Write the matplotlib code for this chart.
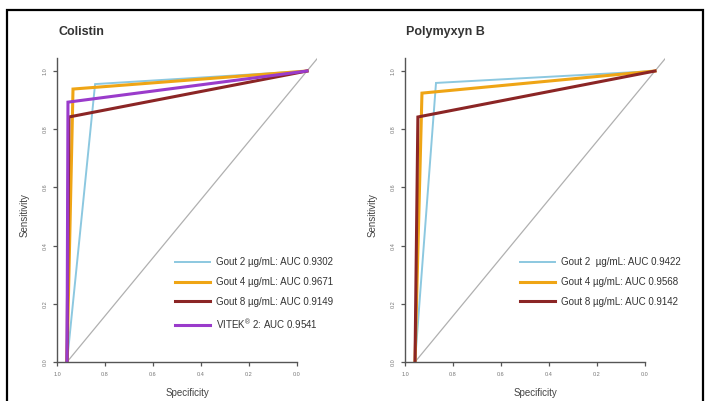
import numpy as np
import matplotlib
matplotlib.use("Agg")
from matplotlib import pyplot as plt
from matplotlib.patches import Rectangle

plt.rcParams['font.family'] = ['Liberation Sans', 'DejaVu Sans']
plt.rcParams['mathtext.fontset'] = 'custom'
plt.rcParams['mathtext.rm'] = 'Liberation Sans'

# ROC points (specificity, sensitivity), one cut-off per test
col_labels = ["Gout 2 µg/mL: AUC 0.9302", "Gout 4 µg/mL: AUC 0.9671",
              "Gout 8 µg/mL: AUC 0.9149", "VITEK$^{\\mathrm{®}}$ 2: AUC 0.9541"]
col_spec = [0.883, 0.975, 0.992, 0.996]
col_sens = [0.955, 0.938, 0.842, 0.893]

pol_labels = ["Gout 2  µg/mL: AUC 0.9422", "Gout 4 µg/mL: AUC 0.9568",
              "Gout 8 µg/mL: AUC 0.9142"]
pol_spec = [0.9125, 0.971, 0.988]
pol_sens = [0.959, 0.924, 0.842]

colors = ["#8CC8E0", "#EFA515", "#8B2525", "#9A3BCB"]
widths = [1.4, 2.2, 2.2, 2.2]
tick_vals = [1.0, 0.8, 0.6, 0.4, 0.2, 0.0]
tick_labels = ["1.0", "0.8", "0.6", "0.4", "0.2", "0.0"]
x_shift = 0.0417  # the axis is drawn offset from the curves

W, H = 706, 401
fig = plt.figure(figsize=(W / 100, H / 100), dpi=100)

def px(x0, y0, w, h):
    return [x0 / W, 1 - (y0 + h) / H, w / W, h / H]

def panel(left, title, specs, sens, labels, leg_x):
    ax = fig.add_axes(px(left, 55, 260, 307))
    ax.set_xlim(1 + x_shift, -x_shift)
    ax.set_ylim(0, 307 / 291)
    ax.axline((1, 0), (0, 1), color="#b0b0b0", lw=0.9, zorder=1)
    handles = []
    for i in range(len(specs)):
        h, = ax.plot([1, specs[i], 0], [0, sens[i], 1], color=colors[i],
                     lw=widths[i], solid_joinstyle="miter", zorder=2)
        handles.append(h)
    for s in ["top", "right"]:
        ax.spines[s].set_visible(False)
    for s in ["left", "bottom"]:
        ax.spines[s].set_color("#555555")
        ax.spines[s].set_linewidth(1.0)
    ax.spines["bottom"].set_bounds(x_shift, 1 + x_shift)
    ax.spines["left"].set_bounds(0, 1.045)
    ax.set_xticks([v + x_shift for v in tick_vals])
    ax.set_xticklabels(tick_labels)
    ax.set_yticks(tick_vals[::-1])
    ax.set_yticklabels(tick_labels[::-1], rotation=90, va="center")
    ax.tick_params(length=3, width=0.9, color="#555555", labelsize=4,
                   labelcolor="#777777", pad=4)
    ax.patch.set_alpha(0)
    fig.text((left + 1) / W, 1 - 32 / H, title, fontsize=9, fontweight="bold",
             color="#333333", va="center", ha="left")
    fig.text((left + 130) / W, 1 - 393 / H, "Specificity", fontsize=7,
             color="#444444", ha="center", va="center")
    fig.text((left - 32) / W, 1 - 215 / H, "Sensitivity", fontsize=7,
             color="#444444", ha="center", va="center", rotation=90)
    ax.legend(handles, labels, frameon=False,
              loc="upper left", bbox_to_anchor=(leg_x / W, 1 - 257 / H),
              bbox_transform=fig.transFigure, fontsize=7.0, borderpad=0,
              borderaxespad=0, handlelength=3.6, handletextpad=0.65,
              labelspacing=1.02, labelcolor="#333333")
    return ax

panel(57, "Colistin", col_spec, col_sens, col_labels, 175)
panel(405, "Polymyxyn B", pol_spec, pol_sens, pol_labels, 520)

fig.add_artist(Rectangle((7 / W, -0.02), 696 / W, 1.02 - 10 / H, transform=fig.transFigure,
                         fill=False, edgecolor="black", lw=1.6))

fig.savefig("out.png", dpi=100)
